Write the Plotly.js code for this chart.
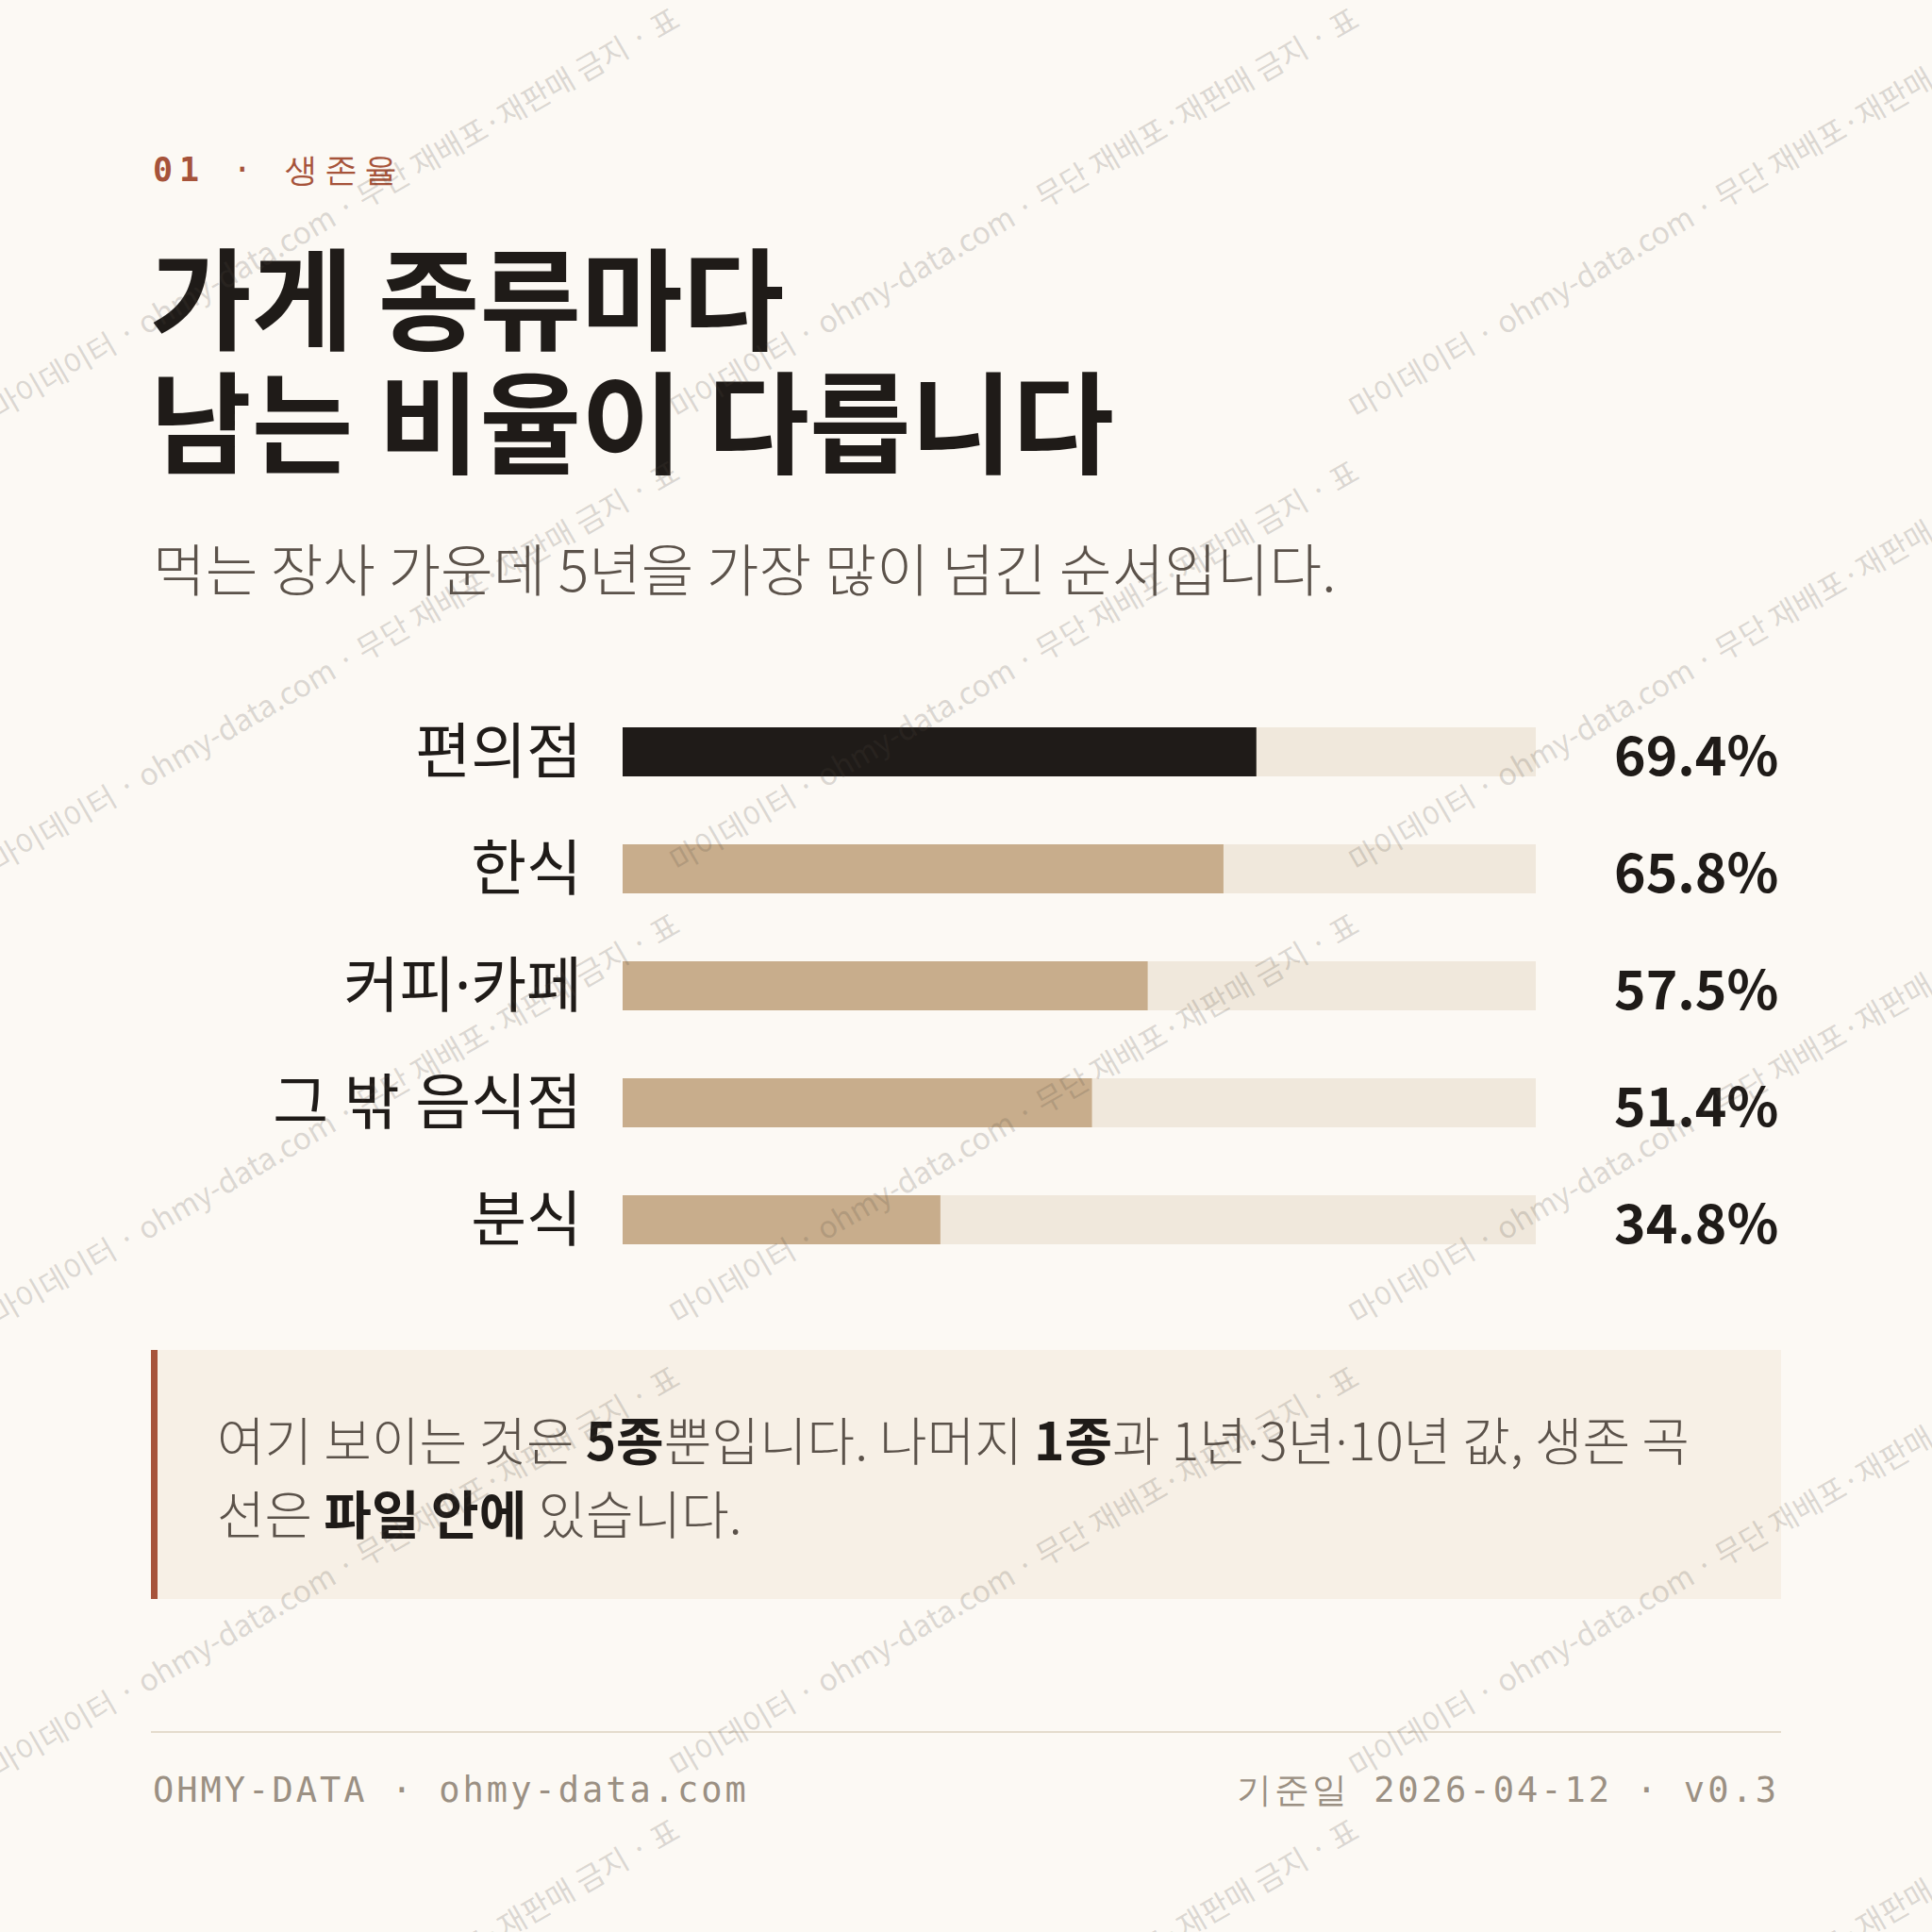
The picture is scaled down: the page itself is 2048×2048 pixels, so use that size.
<!DOCTYPE html>
<html>
<head>
<meta charset="utf-8">
<script src="https://cdn.plot.ly/plotly-3.0.1.min.js"></script>
<style>
  html, body { margin: 0; padding: 0; background: #fcf9f4; }
  #chart { width: 2048px; height: 2048px; }
</style>
</head>
<body>
<div id="chart"></div>
<script>
// 5년 생존율 (%)
const categories = ['편의점', '한식', '커피·카페', '그 밖 음식점', '분식'];
const survival5y = [69.4, 65.8, 57.5, 51.4, 34.8];
const barColors = ['#1f1b18', '#c8ad8c', '#c8ad8c', '#c8ad8c', '#c8ad8c'];

const kicker = '<b>01</b> · 생존율';
const titleLines = ['가게 종류마다', '남는 비율이 다릅니다'];
const subtitle = '먹는 장사 가운데 5년을 가장 많이 넘긴 순서입니다.';
const noteLines = [
    '여기 보이는 것은 <b>5종</b>뿐입니다. 나머지 <b>1종</b>과 1년·3년·10년 값, 생존 곡',
    '선은 <b>파일 안에</b> 있습니다.'
];
const footerLeft = 'OHMY-DATA · ohmy-data.com';
const footerRight = '기준일 2026-04-12 · v0.3';
const watermark = '마이데이터 · ohmy-data.com · 무단 재배포·재판매 금지 · 표';

const W = 2048;
const px = v => v / W;
const py = v => 1 - v / W;
const KR = '"Noto Sans CJK KR", "Noto Sans", sans-serif';
const KR_LATIN = '"Noto Sans", "Noto Sans CJK KR", sans-serif';
const MONO = '"DejaVu Sans Mono", "Liberation Mono", monospace';
const INK = '#1f1b18';
const SUB = '#5b524a';
const RUST = '#a6533a';

const spaced = (t, s) => `<span style="letter-spacing:${s}px">${t}</span>`;
const narrowDot = t => t.replace(/·/g, '<span style="font-family:Noto Sans">·</span>');
const darkBold = t => t.replace(/<b>(.*?)<\/b>/g, `<span style="color:${INK}"><b>$1</b></span>`);

const paperText = (x, y, text, font, extra) => Object.assign({
    xref: 'paper', yref: 'paper', x: px(x), y: py(y), text: text,
    showarrow: false, xanchor: 'left', yanchor: 'middle', font: font
}, extra || {});

const annotations = [
    paperText(160, 180, spaced(kicker, 7), { family: MONO, size: 35, color: RUST }),
    paperText(157, 311, titleLines[0], { family: KR, size: 117, color: INK, weight: 700 }),
    paperText(157, 442, titleLines[1], { family: KR, size: 117, color: INK, weight: 700 }),
    paperText(160, 600, subtitle, { family: KR, size: 60.5, color: SUB, weight: 300 }),
    paperText(228, 1524, narrowDot(darkBold(noteLines[0])), { family: KR, size: 55, color: SUB, weight: 300 }),
    paperText(228, 1602, darkBold(noteLines[1]), { family: KR, size: 55, color: SUB, weight: 300 }),
    paperText(160, 1897, spaced(footerLeft, 3), { family: MONO, size: 37, color: '#9b9083' }),
    paperText(1888, 1897, spaced(footerRight, 3), { family: MONO, size: 37, color: '#9b9083' }, { xanchor: 'right' }),
];

// 값 라벨
categories.forEach((c, i) => {
    annotations.push({
        xref: 'paper', yref: 'y', x: px(1887), y: c,
        text: survival5y[i].toFixed(1) + '%',
        showarrow: false, xanchor: 'right', yanchor: 'middle',
        font: { family: KR, size: 57, color: INK, weight: 700 }
    });
});

// 워터마크
[-40, 440, 920, 1400, 1880, 2360].forEach(sy => {
    [0, 720, 1440].forEach(sx => {
        annotations.push({
            xref: 'paper', yref: 'paper', x: px(sx - 22), y: py(sy + 16),
            xanchor: 'left', yanchor: 'bottom', textangle: -30,
            text: watermark, showarrow: false,
            font: { family: KR, size: 32, color: 'rgba(80,72,64,0.2)' }
        });
    });
});

const shapes = [
    { type: 'rect', xref: 'paper', yref: 'paper', x0: px(160), x1: px(1888), y0: py(1431), y1: py(1695),
      fillcolor: '#f7f0e6', line: { width: 0 }, layer: 'below' },
    { type: 'rect', xref: 'paper', yref: 'paper', x0: px(160), x1: px(167), y0: py(1431), y1: py(1695),
      fillcolor: RUST, line: { width: 0 }, layer: 'below' },
    { type: 'line', xref: 'paper', yref: 'paper', x0: px(160), x1: px(1888), y0: py(1836), y1: py(1836),
      line: { color: '#e4dccd', width: 2 } },
];

const track = {
    type: 'bar', orientation: 'h',
    y: categories, x: categories.map(() => 100),
    marker: { color: '#f0e8dc' }, width: 0.42,
    hoverinfo: 'skip', showlegend: false
};
const bars = {
    type: 'bar', orientation: 'h',
    y: categories, x: survival5y,
    marker: { color: barColors }, width: 0.42,
    hoverinfo: 'skip', showlegend: false
};

const layout = {
    width: W, height: W,
    margin: { t: 0, b: 0, l: 0, r: 0 },
    paper_bgcolor: '#fcf9f4',
    plot_bgcolor: 'rgba(0,0,0,0)',
    barmode: 'overlay',
    xaxis: {
        domain: [px(660), px(1628)], range: [0, 100],
        showgrid: false, zeroline: false, showticklabels: false, showline: false, fixedrange: true
    },
    yaxis: {
        domain: [py(1355), py(735)], range: [4.5, -0.5], type: 'category',
        showgrid: false, zeroline: false, showline: false, ticks: '',
        ticklabelstandoff: 42,
        tickfont: { family: KR_LATIN, size: 64, color: INK }, fixedrange: true
    },
    shapes: shapes,
    annotations: annotations
};

Plotly.newPlot('chart', [track, bars], layout, { displayModeBar: false, staticPlot: true });
</script>
</body>
</html>
